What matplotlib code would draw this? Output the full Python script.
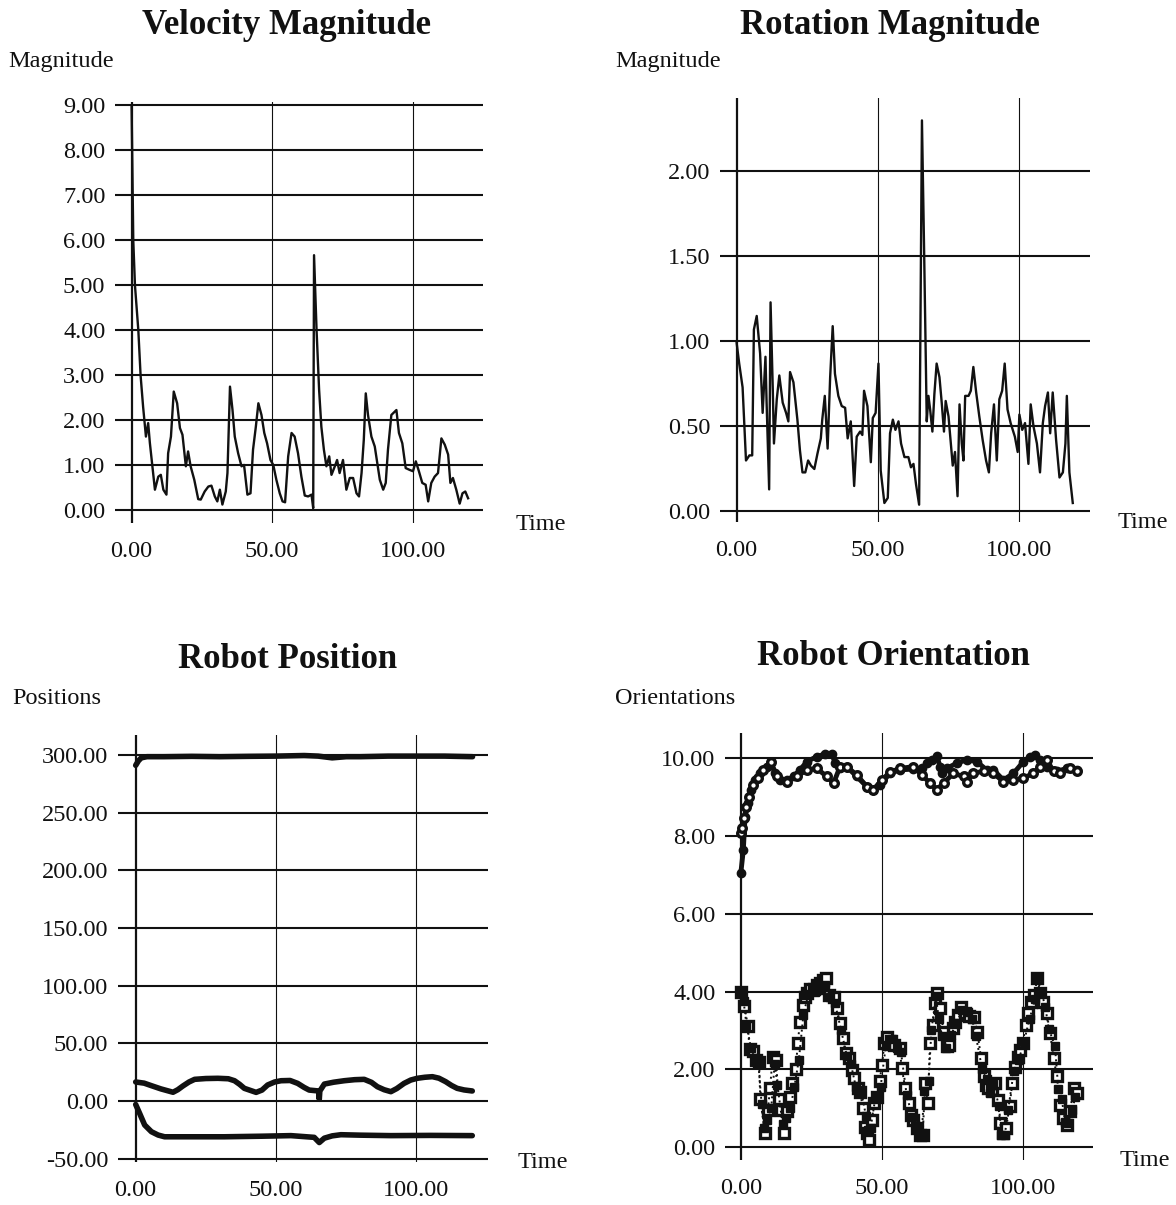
import matplotlib.pyplot as plt

W, H = 1176, 1205
plt.rcParams['font.family'] = ['Liberation Serif', 'DejaVu Serif']

INK = '#111111'

# velocity magnitude
vel_t = [0, 0.6, 1.2, 2.4, 3.2, 4.1, 5.1, 5.9, 6.5, 8.3, 9.5, 10.4, 11.3, 12.4, 13.0,
         14.0, 15.0, 16.2, 17.2, 18.1, 19.3, 20.1, 21.0, 22.3, 23.7, 24.6, 26.0, 27.3,
         28.4, 29.6, 30.5, 31.4, 32.3, 33.5, 34.1, 35.0, 35.9, 36.7, 37.9, 39.1, 40.0,
         41.2, 42.3, 43.2, 44.2, 45.1, 46.2, 47.2, 48.2, 49.4, 50.4, 51.5, 52.7, 53.7,
         54.6, 55.7, 56.9, 58.0, 59.2, 60.4, 61.6, 62.8, 64.0, 64.6, 64.9, 65.8, 66.7,
         67.5, 68.4, 69.3, 70.3, 71.1, 72.3, 73.1, 74.0, 75.2, 76.4, 77.6, 78.8, 80.0,
         80.9, 81.8, 82.6, 83.3, 84.1, 85.3, 86.5, 87.4, 88.3, 89.5, 90.4, 91.2, 92.4,
         94.2, 95.1, 96.3, 97.5, 98.9, 100.1, 101.1, 102.2, 103.4, 104.6, 105.5, 106.6,
         107.8, 109.0, 110.2, 111.4, 112.6, 113.4, 114.3, 115.5, 116.7, 117.7, 118.7, 119.7]
vel_v = [9.0, 6.0, 5.0, 4.0, 3.0, 2.3, 1.64, 1.94, 1.5, 0.46, 0.75, 0.79, 0.46, 0.35, 1.27,
         1.64, 2.64, 2.38, 1.83, 1.68, 0.98, 1.31, 0.98, 0.68, 0.25, 0.24, 0.42, 0.53,
         0.55, 0.31, 0.20, 0.46, 0.13, 0.42, 0.83, 2.75, 2.23, 1.64, 1.27, 0.98, 1.01,
         0.35, 0.38, 1.35, 1.86, 2.38, 2.12, 1.72, 1.49, 1.12, 1.01, 0.68, 0.38, 0.20,
         0.18, 1.20, 1.72, 1.64, 1.27, 0.75, 0.33, 0.31, 0.35, 0.05, 5.67, 4.0, 2.68,
         1.86, 1.35, 0.98, 1.20, 0.79, 0.98, 1.12, 0.83, 1.12, 0.46, 0.72, 0.72, 0.38,
         0.31, 0.83, 1.57, 2.60, 2.12, 1.64, 1.42, 1.05, 0.68, 0.46, 0.61, 1.35, 2.12,
         2.23, 1.72, 1.49, 0.94, 0.90, 0.87, 1.09, 0.87, 0.61, 0.57, 0.20, 0.61,
         0.75, 0.83, 1.60, 1.46, 1.24, 0.61, 0.72, 0.46, 0.15, 0.38, 0.42, 0.27]

# rotation magnitude
rot_t = [0, 0.9, 2.1, 3.3, 4.5, 5.5, 6.1, 7.1, 8.3, 9.2, 10.2, 10.6, 11.5, 12.0, 12.8,
         13.2, 14.2, 15.1, 16.3, 17.5, 18.3, 18.9, 20.1, 21.5, 22.4, 23.3, 24.3, 25.3,
         26.3, 27.5, 28.6, 29.8, 30.3, 31.2, 32.2, 33.1, 34.0, 34.8, 36.0, 37.2, 38.4,
         39.3, 40.4, 41.6, 42.5, 43.7, 44.5, 45.1, 46.3, 47.5, 48.2, 49.2, 50.2, 51.0,
         52.3, 53.5, 54.3, 55.3, 56.2, 57.3, 58.2, 59.4, 60.8, 61.7, 62.6, 63.5, 64.6,
         65.6, 66.4, 67.3, 67.9, 68.5, 69.3, 70.0, 70.8, 71.8, 72.6, 73.4, 74.0, 75.0,
         76.5, 77.3, 78.2, 78.9, 79.7, 80.3, 80.9, 82.1, 82.9, 83.8, 84.8, 85.9, 87.1,
         88.3, 89.3, 90.1, 91.1, 92.1, 93.0, 94.0, 94.9, 95.9, 97.0, 98.5, 99.5, 100.1,
         101.1, 102.1, 103.3, 104.1, 105.1, 106.3, 107.4, 108.4, 109.2, 110.2, 111.0,
         111.9, 113.1, 114.3, 115.5, 116.4, 116.9, 117.8, 119.0]
rot_v = [0.99, 0.87, 0.73, 0.30, 0.33, 0.33, 1.07, 1.15, 0.93, 0.58, 0.91, 0.64, 0.13,
         1.23, 0.71, 0.40, 0.66, 0.80, 0.64, 0.58, 0.53, 0.82, 0.76, 0.54, 0.36, 0.23,
         0.23, 0.30, 0.27, 0.25, 0.34, 0.43, 0.54, 0.68, 0.37, 0.79, 1.09, 0.81, 0.68,
         0.62, 0.61, 0.43, 0.53, 0.15, 0.44, 0.47, 0.45, 0.71, 0.62, 0.29, 0.55, 0.58,
         0.87, 0.24, 0.05, 0.08, 0.46, 0.54, 0.48, 0.53, 0.40, 0.32, 0.32, 0.26, 0.28,
         0.16, 0.04, 2.30, 1.50, 0.53, 0.68, 0.60, 0.47, 0.69, 0.87, 0.79, 0.64, 0.47,
         0.65, 0.56, 0.27, 0.35, 0.09, 0.63, 0.40, 0.30, 0.68, 0.68, 0.71, 0.85, 0.70,
         0.56, 0.42, 0.30, 0.23, 0.46, 0.63, 0.30, 0.66, 0.71, 0.87, 0.60, 0.52, 0.44,
         0.35, 0.57, 0.48, 0.52, 0.28, 0.63, 0.50, 0.40, 0.23, 0.52, 0.62, 0.70, 0.46,
         0.70, 0.42, 0.20, 0.23, 0.40, 0.68, 0.23, 0.05]

# robot position, three coordinates
pos_a_t = [0, 1, 2, 4, 10, 20, 30, 40, 50, 60, 65, 70, 75, 80, 90, 100, 110, 120]
pos_a_v = [291, 295, 297.5, 298.5, 298.5, 298.8, 298.5, 298.8, 299, 299.5, 299, 297.5,
           298.5, 298.5, 299, 299, 299, 298.5]
pos_b_t = [0, 3, 5.6, 9, 13.3, 15, 16.8, 19, 21, 25, 29.3, 33, 35.2, 37, 38.7, 42.9, 45,
           47, 49.5, 51.8, 55, 57.7, 60, 61.8, 65.2, 65.4, 65.6, 67.2, 70.5, 74.3, 78,
           81.4, 84, 86.1, 88.5, 90.9, 93, 95.6, 98, 100.3, 103, 105.7, 108, 110.4, 112.5,
           114.5, 117, 119.9]
pos_b_v = [16.5, 15.5, 13.3, 10.5, 7.6, 9.8, 13.0, 16.5, 18.8, 19.5, 19.7, 19.3, 17.6,
           14.5, 11.0, 7.5, 9.5, 13.9, 16.5, 17.6, 17.8, 15.3, 11.8, 9.5, 8.7, 1.5, 8.7,
           14.7, 16.3, 17.6, 18.5, 18.8, 16.2, 12.4, 9.8, 8.1, 10.8, 15.3, 18.2, 19.7,
           20.6, 21.1, 19.8, 16.8, 13.5, 11.0, 9.6, 8.7]
pos_c_t = [0, 1.4, 3.2, 5.6, 8, 10.3, 20, 31.6, 45, 55.3, 63.6, 65.4, 67.2, 70, 73.1,
           80, 90.9, 105, 119.9]
pos_c_v = [-3, -10.7, -20.8, -26.6, -29.5, -31, -31, -31, -30.5, -30, -31.5, -36, -32.2,
           -30.2, -29.2, -29.6, -30, -29.8, -30]

# robot orientation, two upper and two lower traces
ori_a_t = [0, 0.9, 1.5, 2.7, 3.5, 5.1, 6.9, 9.2, 10.6, 12.2, 13.9, 16.3, 18.7, 21.0,
           23.4, 26.9, 29.9, 32.3, 33.5, 35.2, 37.6, 41.1, 44.7, 47.0, 49.4, 52.9, 56.5,
           61.2, 64.2, 66.0, 67.7, 69.5, 70.7, 71.3, 73.0, 76.6, 80.1, 83.7, 87.2, 89.6,
           93.1, 96.7, 100.2, 102.6, 104.4, 106.1, 108.5, 112.1, 115.6, 119.1]
ori_a_v = [7.04, 7.64, 8.5, 8.84, 9.19, 9.44, 9.61, 9.78, 9.91, 9.61, 9.44, 9.44, 9.53,
           9.70, 9.91, 10.04, 10.11, 10.11, 9.87, 9.74, 9.78, 9.53, 9.27, 9.19, 9.31,
           9.61, 9.70, 9.72, 9.74, 9.87, 9.96, 10.06, 9.78, 9.61, 9.74, 9.87, 9.96, 9.91,
           9.70, 9.70, 9.44, 9.61, 9.91, 10.04, 10.09, 9.96, 9.78, 9.66, 9.74, 9.70]
ori_b_t = [0, 0.5, 1.2, 2.0, 3.0, 4.5, 6.0, 8.0, 10.6, 12.8, 16.3, 19.9, 23.4, 26.9,
           30.5, 32.9, 35.2, 37.6, 41.1, 44.7, 47.0, 50.0, 52.9, 56.5, 61.2, 64.2, 67.1,
           69.5, 71.9, 75.4, 79.0, 80.1, 82.5, 86.1, 89.6, 93.1, 96.7, 100.2, 103.8,
           106.1, 108.5, 110.9, 113.2, 116.8, 119.1]
ori_b_v = [8.07, 8.2, 8.45, 8.75, 9.0, 9.3, 9.5, 9.7, 9.9, 9.53, 9.40, 9.53, 9.70, 9.74,
           9.53, 9.36, 9.78, 9.78, 9.57, 9.27, 9.19, 9.44, 9.64, 9.74, 9.78, 9.57, 9.36,
           9.19, 9.36, 9.61, 9.53, 9.40, 9.62, 9.66, 9.61, 9.40, 9.44, 9.49, 9.61, 9.78,
           9.96, 9.66, 9.61, 9.74, 9.66]
ori_c_t = [0, 1.3, 2.5, 3.1, 4.3, 5.3, 6.5, 6.9, 8.6, 9.6, 10.4, 11.3, 12.5, 13.4, 14.3,
           15.5, 16.3, 17.3, 18.3, 19.5, 20.2, 21.0, 21.9, 22.6, 23.6, 24.6, 25.8, 27.0,
           28.1, 29.3, 30.3, 31.4, 32.9, 34.0, 35.2, 36.2, 37.2, 38.2, 39.4, 40.3, 41.4,
           42.3, 43.3, 44.1, 44.7, 45.6, 46.5, 47.3, 48.2, 49.2, 50.1, 50.9, 52.0, 53.2,
           54.5, 56.3, 57.1, 58.3, 59.5, 60.3, 61.2, 62.4, 63.6, 64.5, 65.4, 66.3, 67.1,
           68.1, 68.9, 69.7, 70.7, 71.9, 73.0, 74.0, 75.2, 76.0, 76.9, 78.1, 79.6, 81.1,
           82.7, 83.9, 85.2, 86.1, 86.9, 87.8, 89.0, 90.2, 91.1, 92.0, 92.9, 94.1, 95.3,
           96.3, 97.3, 98.2, 99.1, 100.0, 101.1, 102.0, 103.0, 104.0, 105.2, 106.1, 107.3,
           108.5, 109.7, 110.9, 112.1, 113.2, 114.4, 115.6, 116.8, 118.0, 119.1]
ori_c_v = [3.98, 3.62, 3.12, 2.52, 2.46, 2.25, 2.20, 1.23, 0.36, 0.96, 1.52, 2.33, 2.23,
           1.23, 0.96, 0.36, 0.92, 1.30, 1.66, 2.00, 2.67, 3.23, 3.66, 3.87, 3.96, 4.06,
           4.06, 4.17, 4.22, 4.30, 4.34, 3.92, 3.87, 3.57, 3.19, 2.80, 2.42, 2.29, 1.99,
           1.77, 1.52, 1.43, 1.00, 0.53, 0.36, 0.19, 0.70, 1.13, 1.30, 1.69, 2.12, 2.67,
           2.84, 2.72, 2.63, 2.54, 2.03, 1.52, 1.13, 0.83, 0.70, 0.49, 0.32, 0.32, 1.65,
           1.13, 2.67, 3.14, 3.70, 3.96, 3.57, 2.97, 2.59, 2.63, 3.06, 3.23, 3.40, 3.60,
           3.44, 3.36, 3.34, 2.97, 2.29, 1.82, 1.60, 1.52, 1.47, 1.65, 1.22, 0.62, 0.36,
           0.49, 1.05, 1.65, 2.07, 2.33, 2.50, 2.67, 3.14, 3.44, 3.74, 3.92, 4.34, 3.96,
           3.74, 3.44, 2.93, 2.29, 1.82, 1.09, 0.75, 0.57, 0.92, 1.52, 1.39]
ori_d_t = [0, 1.0, 2.0, 3.6, 5.0, 6.2, 7.4, 8.2, 9.2, 10.8, 12.0, 13.0, 14.8, 15.9,
           17.6, 19.0, 20.6, 22.2, 24.0, 26.4, 28.6, 30.0, 31.8, 33.4, 35.6, 37.6, 39.0,
           40.8, 42.8, 44.4, 45.2, 46.0, 47.8, 49.6, 51.4, 53.6, 55.4, 56.8, 58.8, 60.8,
           62.0, 63.2, 64.2, 65.0, 66.6, 67.6, 69.2, 70.2, 71.4, 72.6, 74.6, 76.4, 78.6,
           80.4, 82.0, 83.4, 85.6, 87.4, 88.4, 89.6, 91.6, 92.4, 93.6, 94.8, 96.8, 98.6,
           100.4, 102.4, 104.4, 104.8, 106.6, 108.0, 109.2, 111.4, 112.6, 113.8, 115.0,
           116.2, 117.6, 118.6]
ori_d_v = [4.0, 3.75, 3.15, 2.55, 2.3, 2.18, 1.1, 0.5, 0.7, 1.0, 2.15, 1.6, 0.6, 0.75,
           1.0, 1.55, 2.25, 3.4, 3.95, 4.0, 4.05, 4.18, 3.85, 3.7, 3.0, 2.35, 2.15,
           1.55, 1.4, 0.8, 0.45, 0.48, 1.3, 1.55, 2.6, 2.78, 2.55, 2.45, 1.35, 0.78,
           0.55, 0.3, 0.32, 1.45, 1.7, 3.0, 3.88, 3.3, 2.85, 2.55, 2.88, 3.2, 3.52, 3.48,
           3.3, 2.85, 2.0, 1.75, 1.38, 1.62, 1.05, 0.3, 0.3, 0.95, 1.95, 2.25, 2.7,
           3.3, 3.8, 4.38, 4.0, 3.6, 3.05, 2.6, 1.5, 1.25, 0.65, 0.62, 0.95, 1.3]

x_ticks = [0, 50, 100]


def px(x, y):
    return x / W, 1 - y / H


def make_axes(fig, left, top, right, bottom, xlim, ylim, yticks, hlw=1.5):
    ax = fig.add_axes([left / W, 1 - bottom / H, (right - left) / W, (bottom - top) / H])
    ax.set_xlim(*xlim)
    ax.set_ylim(*ylim)
    for s in ax.spines.values():
        s.set_visible(False)
    ax.set_xticks(x_ticks)
    ax.set_xticklabels([f'{v:.2f}' for v in x_ticks])
    ax.set_yticks(yticks)
    ax.set_yticklabels([f'{v:.2f}' for v in yticks])
    ax.tick_params(axis='both', length=0, labelsize=17.5, colors=INK)
    ax.tick_params(axis='x', pad=13)
    ax.tick_params(axis='y', pad=7)
    for y in yticks:
        ax.axhline(y, color=INK, lw=hlw, zorder=1)
    ax.axvline(0, color=INK, lw=1.6, zorder=1)
    for x in x_ticks[1:]:
        ax.axvline(x, color=INK, lw=0.8, zorder=1)
    return ax


fig = plt.figure(figsize=(W / 100, H / 100), dpi=100)

# Velocity Magnitude
ax1 = make_axes(fig, 115, 101.7, 483, 523, (-5.9, 125), (-0.28, 9.08),
                [0, 1, 2, 3, 4, 5, 6, 7, 8, 9])
ax1.plot(vel_t, vel_v, color=INK, lw=1.7, zorder=3)

# Rotation Magnitude
ax2 = make_axes(fig, 720, 98.3, 1090, 521.7, (-5.9, 125.1), (-0.06, 2.43),
                [0, 0.5, 1.0, 1.5, 2.0])
ax2.plot(rot_t, rot_v, color=INK, lw=1.7, zorder=3)

# Robot Position
ax3 = make_axes(fig, 118, 735, 488, 1161.7, (-6.3, 125.5), (-52.6, 317.3),
                [-50, 0, 50, 100, 150, 200, 250, 300])
for t, v in [(pos_a_t, pos_a_v), (pos_b_t, pos_b_v), (pos_c_t, pos_c_v)]:
    ax3.plot(t, v, color=INK, lw=4.0, solid_capstyle='round',
             solid_joinstyle='round', zorder=3)

# Robot Orientation
ax4 = make_axes(fig, 725, 733.3, 1092.7, 1160, (-5.6, 124.8), (-0.33, 10.64),
                [0, 2, 4, 6, 8, 10])
ax4.plot(ori_a_t, ori_a_v, color=INK, lw=3.5, marker='o', ms=6,
         mfc=INK, mec=INK, zorder=3)
ax4.plot(ori_b_t, ori_b_v, color=INK, lw=3.5, marker='o', ms=5.5,
         mfc='white', mec=INK, mew=2.4, zorder=3)
ax4.plot(ori_c_t, ori_c_v, color=INK, lw=1.4, ls=':', marker='s', ms=6.5,
         mfc='white', mec=INK, mew=2.4, zorder=3)
ax4.plot(ori_d_t, ori_d_v, color=INK, lw=1.4, ls=':', marker='s', ms=5.5,
         mfc=INK, mec=INK, zorder=3)

# titles and axis captions
titles = [('Velocity Magnitude', 287, 25), ('Rotation Magnitude', 890, 25),
          ('Robot Position', 288, 659), ('Robot Orientation', 893, 657)]
for text, x, y in titles:
    fig.text(*px(x, y), text, ha='center', va='center', fontsize=25,
             fontweight='bold', color=INK)

ylabels = [('Magnitude', 8, 62), ('Magnitude', 615, 62),
           ('Positions', 12, 698), ('Orientations', 615, 698)]
for text, x, y in ylabels:
    fig.text(*px(x, y), text, ha='left', va='center', fontsize=17.5, color=INK)

for x, y in [(516, 525), (1118, 522), (518, 1162), (1120, 1160)]:
    fig.text(*px(x, y), 'Time', ha='left', va='center', fontsize=17.5, color=INK)

fig.savefig('out.png', dpi=100, facecolor='white')
